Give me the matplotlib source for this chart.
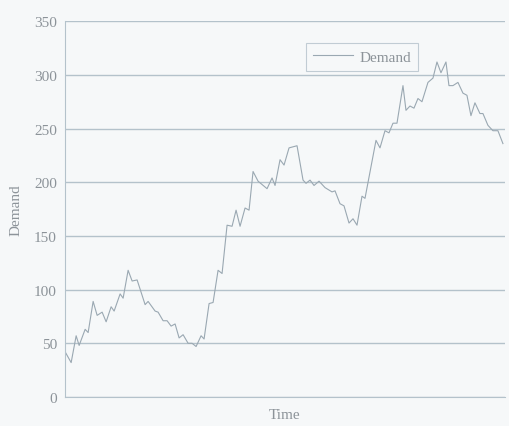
import matplotlib
matplotlib.use("Agg")
import matplotlib.pyplot as plt

time = [0, 6, 11, 14, 20, 23, 28, 32, 37, 41, 46, 49, 55, 58, 63, 67, 72, 80, 83, 90,
        93, 98, 102, 106, 110, 114, 118, 123, 127, 131, 136, 139, 144, 148, 153, 157,
        162, 167, 171, 175, 180, 184, 188, 193, 202, 207, 210, 215, 219, 224, 232, 238,
        241, 245, 249, 254, 260, 267, 270, 275, 279, 284, 288, 292, 297, 300, 311, 315,
        320, 324, 328, 332, 338, 341, 345, 349, 353, 357, 363, 368, 372, 376, 381, 384,
        388, 393, 398, 402, 406, 410, 415, 418, 423, 428, 433, 438]
demand = [42, 32, 57, 48, 63, 60, 89, 76, 79, 70, 84, 80, 96, 92, 118, 108, 109, 86, 89, 80,
          79, 71, 71, 66, 68, 55, 58, 50, 50, 47, 57, 54, 87, 88, 118, 115,
          160, 159, 174, 159, 176, 174, 210, 201, 194, 204, 197, 221, 216, 232, 234, 202,
          199, 202, 197, 201, 195, 191, 192, 180, 178, 162, 166, 160, 187, 185, 239, 232,
          248, 246, 255, 255, 290, 267, 271, 269, 278, 275, 293, 297, 312, 302, 312, 290,
          290, 293, 283, 281, 262, 274, 264, 264, 253, 248, 248, 236]
yticks = [0, 50, 100, 150, 200, 250, 300, 350]

text_c = "#8c9399"
grid_c = "#b4c2cb"
line_c = "#9aa8b2"
bg = "#f6f8f9"

plt.rcParams['font.family'] = ['Liberation Serif', 'DejaVu Serif']

fig = plt.figure(figsize=(5.09, 4.27), dpi=100, facecolor=bg)
ax = fig.add_axes([0.128, 0.068, 0.864, 0.880], facecolor=bg)

ax.plot(time, demand, color=line_c, lw=0.8, label="Demand")
ax.set_xlim(0, 440)
ax.set_ylim(0, 350)
ax.set_yticks(yticks)
ax.set_xticks([])
ax.yaxis.grid(True, color=grid_c, lw=1.0)
ax.set_axisbelow(True)
ax.tick_params(axis='y', length=0, pad=6, labelsize=11, labelcolor=text_c)
for s in ['top', 'right']:
    ax.spines[s].set_visible(False)
ax.spines['left'].set_color(grid_c)
ax.spines['bottom'].set_color(grid_c)
ax.set_ylabel("Demand", color=text_c, fontsize=11, labelpad=8)
ax.set_xlabel("Time", color=text_c, fontsize=11, labelpad=8)

leg = ax.legend(loc='upper center', bbox_to_anchor=(0.675, 0.962), fontsize=11,
                frameon=True, fancybox=False, handlelength=2.6, handletextpad=0.4,
                borderpad=0.45)
leg.get_frame().set_edgecolor(grid_c)
leg.get_frame().set_facecolor(bg)
leg.get_frame().set_linewidth(0.8)
for t in leg.get_texts():
    t.set_color(text_c)

fig.savefig("out.png", dpi=100, facecolor=bg)
